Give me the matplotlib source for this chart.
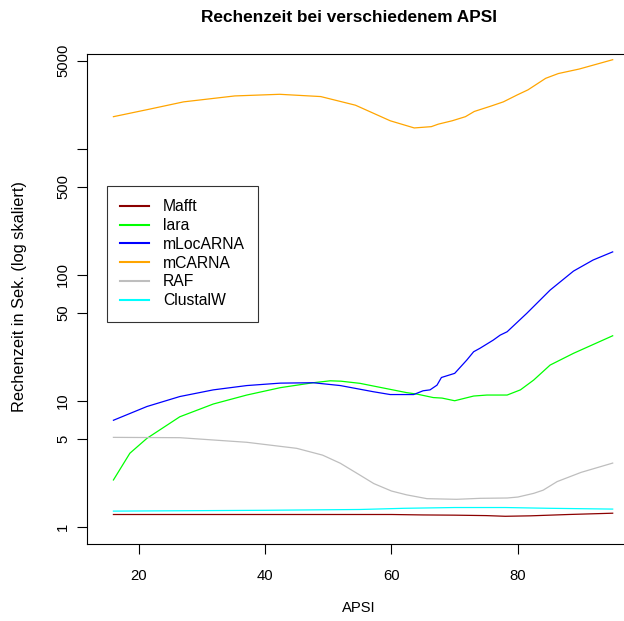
import matplotlib
matplotlib.use("Agg")
import matplotlib.pyplot as plt

plt.rcParams['font.family'] = ['Liberation Sans', 'DejaVu Sans']

# ---- data ----
mafft_x = [16, 40, 60, 65, 70, 75, 78, 82, 88, 95]
mafft_y = [1.25, 1.25, 1.25, 1.24, 1.235, 1.225, 1.21, 1.22, 1.25, 1.28]

lara_x = [16, 18.6, 21.3, 26.5, 31.8, 37.1, 42.4, 47.6, 50.3, 52, 55, 57.1, 62.4, 64.0,
          66.6, 68, 70, 73, 75.1, 78.3, 80.4, 82.5, 85.1, 88.8, 95]
lara_y = [2.35, 3.83, 5.03, 7.46, 9.42, 11.1, 12.7, 13.9, 14.4, 14.3, 13.75, 13.1, 11.6, 11.3,
          10.6, 10.5, 10.0, 10.9, 11.1, 11.1, 12.2, 14.6, 19.2, 23.8, 32.8]

mloc_x = [16, 21.3, 26.5, 31.8, 37.1, 42.4, 47.6, 51.9, 57.1, 59.8, 63.5, 65.0, 66.1, 67.2,
          67.9, 70.0, 71.9, 73.0, 74.0, 76.1, 77.2, 78.3, 81.4, 85.1, 88.8, 91.9, 95]
mloc_y = [7.0, 9.0, 10.8, 12.2, 13.2, 13.8, 13.9, 13.2, 11.8, 11.2, 11.2, 12.0, 12.2, 13.3,
          15.3, 16.5, 21.0, 24.5, 26.1, 30.3, 33.2, 35.3, 49.4, 75.6, 107, 131, 152]

mcarna_x = [16, 21.6, 27.1, 35.2, 42.3, 48.8, 54.3, 59.8, 63.6, 66.3, 67.4, 69.6, 71.7,
            73.1, 75.8, 77.7, 79.9, 81.6, 84.4, 86.4, 89.7, 95]
mcarna_y = [1800, 2060, 2360, 2630, 2710, 2600, 2220, 1670, 1465, 1500, 1570, 1670, 1800,
            1980, 2190, 2360, 2680, 2940, 3630, 3960, 4300, 5100]

raf_x = [16, 26.5, 37.1, 45, 49.1, 51.9, 55, 57.2, 60, 62.4, 65.6, 70.3, 74, 78.3, 80,
         82.5, 84, 86.2, 90, 95]
raf_y = [5.12, 5.09, 4.68, 4.19, 3.70, 3.19, 2.57, 2.2, 1.92, 1.79, 1.67, 1.65, 1.68, 1.69,
         1.72, 1.84, 1.95, 2.28, 2.7, 3.2]

clustal_x = [16, 40, 55, 62, 70, 78, 85, 95]
clustal_y = [1.33, 1.35, 1.37, 1.40, 1.42, 1.42, 1.40, 1.38]

series_names = ["Mafft", "lara", "mLocARNA", "mCARNA", "RAF", "ClustalW"]
series_colors = ["#8B0000", "#00FF00", "#0000FF", "#FFA500", "#BEBEBE", "#00FFFF"]

x_ticks = [20, 40, 60, 80]
y_ticks = [1, 5, 10, 50, 100, 500, 1000, 5000]
y_ticklabels = ["1", "5", "10", "50", "100", "500", "", "5000"]

title = "Rechenzeit bei verschiedenem APSI"
xlabel = "APSI"
ylabel = "Rechenzeit in Sek. (log skaliert)"

# ---- figure ----
W, H = 624, 621
fig = plt.figure(figsize=(W / 100, H / 100), dpi=100)

left_px, right_px, top_px, bottom_px = 86.7, 632.9, 54.3, 544.3
ax = fig.add_axes([left_px / W, 1 - bottom_px / H,
                   (right_px - left_px) / W, (bottom_px - top_px) / H])

data = [(mafft_x, mafft_y), (lara_x, lara_y), (mloc_x, mloc_y),
        (mcarna_x, mcarna_y), (raf_x, raf_y), (clustal_x, clustal_y)]
for (xs, ys), name, col in zip(data, series_names, series_colors):
    ax.plot(xs, ys, color=col, lw=0.9, label=name)

ax.set_yscale('log')
ax.set_xlim(11.77, 98.2)
ax.set_ylim(0.725, 5630)
ax.set_xticks(x_ticks)
ax.set_xticklabels([str(t) for t in x_ticks])
ax.set_yticks(y_ticks)
ax.set_yticklabels(y_ticklabels)
ax.yaxis.set_minor_locator(matplotlib.ticker.NullLocator())
ax.tick_params(axis='both', direction='out', length=7, width=0.8, labelsize=10.7,
               colors='black')
ax.tick_params(axis='x', pad=11)
ax.tick_params(axis='y', pad=5)
for lab in ax.get_yticklabels():
    lab.set_rotation(90)
    lab.set_va('center')
for sp in ax.spines.values():
    sp.set_linewidth(0.8)
    sp.set_color('black')

fig.text(349 / W, 1 - 18 / H, title, ha='center', va='center',
         fontsize=12.4, fontweight='bold')
fig.text(359 / W, 1 - 608 / H, xlabel, ha='center', va='center', fontsize=10.6)
fig.text(20 / W, 1 - 297 / H, ylabel, ha='center', va='center', fontsize=11.8,
         rotation=90)

leg = ax.legend(loc='upper left', bbox_to_anchor=(106.7 / W, 1 - 186 / H),
                bbox_transform=fig.transFigure, borderaxespad=0,
                fancybox=False, frameon=True, fontsize=11.3,
                handlelength=1.85, handletextpad=0.89, borderpad=0.85,
                labelspacing=0.24)
leg.get_frame().set_edgecolor('black')
leg.get_frame().set_linewidth(0.8)
for line in leg.get_lines():
    line.set_linewidth(1.5)

fig.savefig("out.png", dpi=100)
